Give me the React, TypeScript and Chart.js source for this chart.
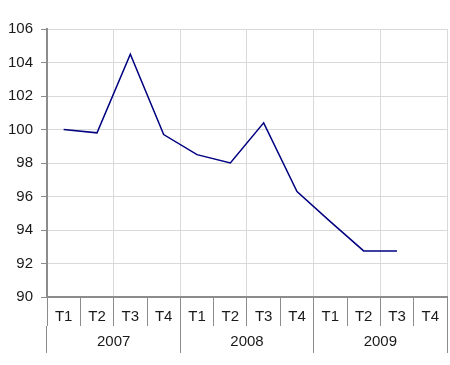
import React, { useEffect, useRef } from "react";
import { Chart, registerables } from "chart.js";

Chart.register(...registerables);

const quarters = ["T1", "T2", "T3", "T4", "T1", "T2", "T3", "T4", "T1", "T2", "T3", "T4"];
const years = ["2007", "2008", "2009"];
const values: (number | null)[] = [100.0, 99.8, 104.5, 99.7, 98.5, 98.0, 100.4, 96.3, 94.5, 92.75, 92.75, null];
const yMin = 90;
const yMax = 106;
const yStep = 2;

const FONT = { family: "'Liberation Sans', Arial, sans-serif", size: 15 };
const TEXT = "#1a1a1a";
const GRID = "#d9d9d9";
const AXIS = "#8c8c8c";

export default function App() {
  const ref = useRef<HTMLCanvasElement | null>(null);

  useEffect(() => {
    if (!ref.current) return;
    const chart = new Chart(ref.current, {
      type: "line",
      data: {
        labels: quarters,
        datasets: [
          {
            data: values,
            borderColor: "#000080",
            borderWidth: 1.5,
            pointRadius: 0,
            tension: 0,
            fill: false,
          },
        ],
      },
      options: {
        animation: false,
        responsive: false,
        layout: { padding: { top: 29, right: 3, bottom: 12, left: 0 } },
        plugins: { legend: { display: false }, tooltip: { enabled: false } },
        scales: {
          x: {
            type: "category",
            position: "bottom",
            weight: 0,
            offset: true,
            afterFit: (s: any) => {
              s.height = 29;
            },
            grid: {
              offset: true,
              drawOnChartArea: true,
              tickLength: 29,
              lineWidth: 1,
              color: (ctx: any) =>
                ctx.index === undefined || ctx.index % 2 === 0 ? GRID : "rgba(0,0,0,0)",
              tickColor: AXIS,
            },
            border: { display: true, color: AXIS, width: 2 },
            ticks: {
              font: FONT,
              color: TEXT,
              padding: -18,
              autoSkip: false,
              maxRotation: 0,
            },
          },
          x2: {
            type: "category",
            position: "bottom",
            weight: 1,
            labels: years,
            offset: true,
            afterFit: (s: any) => {
              s.height = 27;
            },
            grid: {
              offset: true,
              drawOnChartArea: false,
              tickLength: 27,
              lineWidth: 1,
              tickColor: AXIS,
              color: AXIS,
            },
            border: { display: false },
            ticks: {
              font: FONT,
              color: TEXT,
              padding: -20,
              autoSkip: false,
              maxRotation: 0,
            },
          },
          y: {
            min: yMin,
            max: yMax,
            afterFit: (s: any) => {
              s.width = 47;
            },
            ticks: { stepSize: yStep, font: FONT, color: TEXT, padding: 8 },
            grid: { color: GRID, tickColor: AXIS, tickLength: 6, lineWidth: 1 },
            border: { display: true, color: AXIS, width: 2 },
          },
        },
      },
    });
    return () => chart.destroy();
  }, []);

  return (
    <div style={{ position: "absolute", left: 0, top: 0, width: 450, height: 365, background: "#fff" }}>
      <canvas ref={ref} width={450} height={365} style={{ display: "block" }} />
    </div>
  );
}
